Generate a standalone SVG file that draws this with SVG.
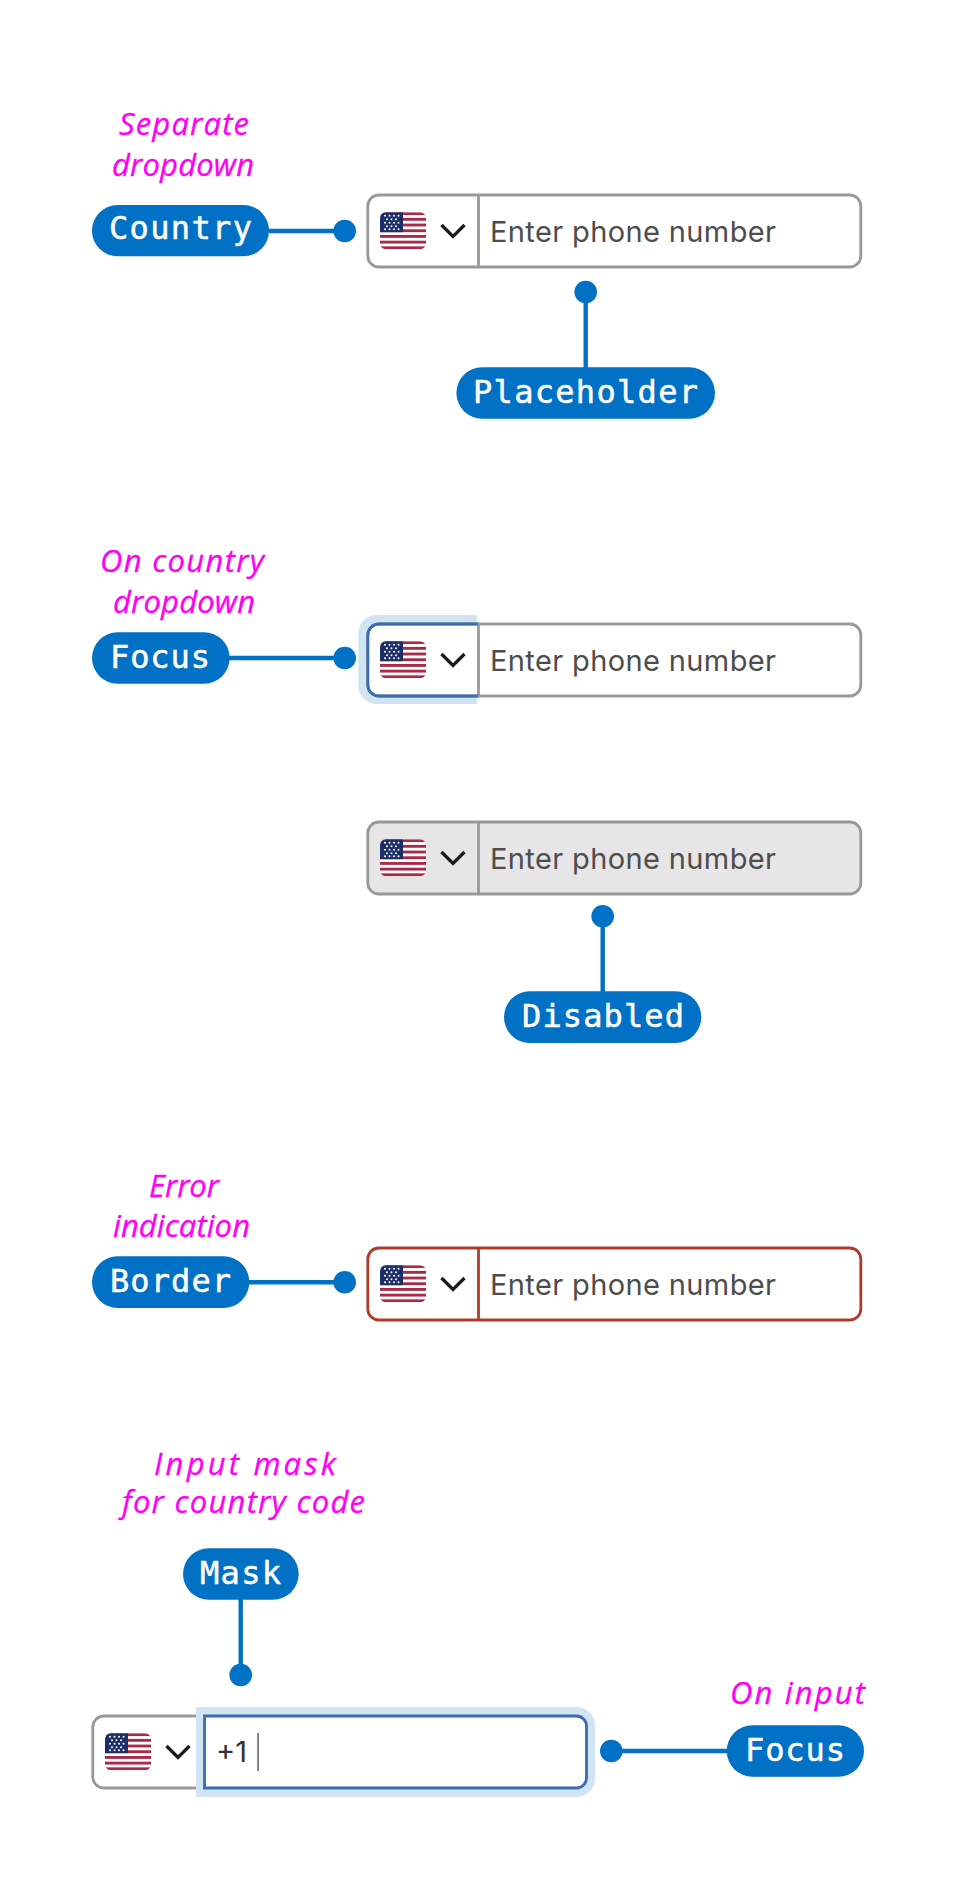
<svg xmlns="http://www.w3.org/2000/svg" xmlns:xlink="http://www.w3.org/1999/xlink" width="956" height="1904" viewBox="0 0 956 1904">
<style>
.pill{fill:#0071c5}
.pt{font-family:"DejaVu Sans Mono","Liberation Mono",monospace;font-size:32px;fill:#fff;stroke:#fff;stroke-width:.5px}
.hand{font-family:"Open Sans","Noto Sans",sans-serif;font-style:italic;font-weight:400;font-size:31px;fill:#ff00f0;stroke:#ff00f0;stroke-width:.3px}
.box{fill:#fff;stroke:#999;stroke-width:2.8}
.div{stroke:#999;stroke-width:2.8;fill:none}
.ph{font-family:Inter,"Liberation Sans",sans-serif;font-size:29px;fill:#4d4d4d}
.chev{fill:none;stroke:#1a1a1a;stroke-width:3.3}
.line{stroke:#0071c5;stroke-width:4.4;fill:none}
.dot{fill:#0071c5}
.ring{fill:#d0e4f3}
.foc{fill:none;stroke:#3a6cb0;stroke-width:2.8}
</style>
<defs>
<clipPath id="fc"><rect width="46" height="37" rx="6"/></clipPath>
<g id="flag"><g clip-path="url(#fc)">
<rect width="46" height="37" fill="#fff"/>
<g fill="#a92a47">
<rect y="0" width="46" height="2.85"/><rect y="5.7" width="46" height="2.85"/><rect y="11.4" width="46" height="2.85"/><rect y="17.1" width="46" height="2.85"/><rect y="22.8" width="46" height="2.85"/><rect y="28.5" width="46" height="2.85"/><rect y="34.15" width="46" height="2.85"/>
</g>
<rect width="23" height="20" fill="#1e2f66"/>
<g fill="#fff">
<circle cx="5" cy="3.5" r="1"/><circle cx="9.5" cy="3.5" r="1"/><circle cx="14" cy="3.5" r="1"/><circle cx="18.5" cy="3.5" r="1"/>
<circle cx="7" cy="7" r="1"/><circle cx="11.5" cy="7" r="1"/><circle cx="16" cy="7" r="1"/>
<circle cx="5" cy="10.5" r="1"/><circle cx="9.5" cy="10.5" r="1"/><circle cx="14" cy="10.5" r="1"/><circle cx="18.5" cy="10.5" r="1"/>
<circle cx="7" cy="14" r="1"/><circle cx="11.5" cy="14" r="1"/><circle cx="16" cy="14" r="1"/>
<circle cx="5" cy="17" r="1"/><circle cx="9.5" cy="17" r="1"/><circle cx="14" cy="17" r="1"/><circle cx="18.5" cy="17" r="1"/>
</g></g></g>
<g id="selector">
<use xlink:href="#flag" href="#flag" x="13" y="18.2"/>
<polyline class="chev" points="74.5,31 86,42.5 97.5,31"/>
</g>
</defs>
<rect width="956" height="1904" fill="#fff"/>

<g id="connectors">
<path class="line" d="M269 231H344.7"/><circle class="dot" cx="344.7" cy="231" r="11.3"/>
<path class="line" d="M585.7 292V368"/><circle class="dot" cx="585.7" cy="292" r="11.3"/>
<path class="line" d="M229 658H344.7"/><circle class="dot" cx="344.7" cy="658" r="11.3"/>
<path class="line" d="M602.7 916V992"/><circle class="dot" cx="602.7" cy="916.3" r="11.3"/>
<path class="line" d="M249 1282.3H344.7"/><circle class="dot" cx="344.7" cy="1282.3" r="11.3"/>
<path class="line" d="M240.7 1599V1675"/><circle class="dot" cx="240.7" cy="1675" r="11.3"/>
<path class="line" d="M611.3 1751H727"/><circle class="dot" cx="611.3" cy="1751" r="11.3"/>
</g>

<g id="input-default" transform="translate(367,194)">
<rect class="box" x="0.8" y="1" width="493" height="72" rx="11"/>
<path class="div" d="M111.500 1V73"/>
<use xlink:href="#selector" href="#selector"/>
<text class="ph" x="123" y="47.500" textLength="286">Enter phone number</text>
</g>
<g id="input-focus-country" transform="translate(367,623)">
<path class="ring" d="M110 -8H10A18.500 18.500 0 0 0 -8.700 10.500V62.500A18.500 18.500 0 0 0 10 81H110Z"/>
<rect class="box" x="0.8" y="1" width="493" height="72" rx="11"/>
<path class="div" d="M111.500 1V73"/>
<path class="foc" d="M111 1H11.800A11 11 0 0 0 0.800 12V62A11 11 0 0 0 11.800 73H111"/>
<use xlink:href="#selector" href="#selector"/>
<text class="ph" x="123" y="47.500" textLength="286">Enter phone number</text>
</g>
<g id="input-disabled" transform="translate(367,821)">
<rect class="box" x="0.8" y="1" width="493" height="72" rx="11" style="fill:#e6e6e6"/>
<path class="div" d="M111.500 1V73"/>
<use xlink:href="#selector" href="#selector"/>
<text class="ph" x="123" y="47.500" textLength="286">Enter phone number</text>
</g>
<g id="input-error" transform="translate(367,1247)">
<rect class="box" x="0.8" y="1" width="493" height="72" rx="11" style="stroke:#b03a2a"/>
<path class="div" d="M111.500 1V73" style="stroke:#b03a2a"/>
<use xlink:href="#selector" href="#selector"/>
<text class="ph" x="123" y="47.500" textLength="286">Enter phone number</text>
</g>
<g id="input-focus-phone" transform="translate(92,1715)">
<rect class="box" x="0.8" y="1" width="140" height="72" rx="11"/>
<use xlink:href="#selector" href="#selector"/>
<path class="ring" d="M104 -8H485A18.500 18.500 0 0 1 503 10.500V63.500A18.500 18.500 0 0 1 485 82H104Z"/>
<path d="M112.500 1H484.500A10 10 0 0 1 494.500 11V63A10 10 0 0 1 484.500 73H112.500Z" fill="#fff" stroke="#3a6cb0" stroke-width="2.800"/>
<text x="124" y="46.700" font-family="Inter,'Liberation Sans',sans-serif" font-size="29" fill="#333">+1</text>
<rect x="165.300" y="18" width="1.600" height="38" fill="#666"/>
</g>

<g id="label-country"><rect class="pill" x="92" y="205" width="177" height="51.300" rx="25.600"/><text class="pt" x="109" y="239" textLength="143">Country</text></g>
<g id="label-placeholder"><rect class="pill" x="456.400" y="367.300" width="258.600" height="51.400" rx="25.700"/><text class="pt" x="473" y="402.700" textLength="225">Placeholder</text></g>
<g id="label-focus-country"><rect class="pill" x="92" y="632.300" width="137.700" height="51.400" rx="25.700"/><text class="pt" x="110" y="667.700" textLength="100">Focus</text></g>
<g id="label-disabled"><rect class="pill" x="504" y="991.300" width="197.300" height="51.700" rx="25.800"/><text class="pt" x="522" y="1026.700" textLength="162">Disabled</text></g>
<g id="label-border"><rect class="pill" x="92" y="1256.300" width="157.300" height="51.700" rx="25.800"/><text class="pt" x="110" y="1291.700" textLength="121">Border</text></g>
<g id="label-mask"><rect class="pill" x="183" y="1548.300" width="115.700" height="51.400" rx="25.700"/><text class="pt" x="200" y="1584" textLength="81">Mask</text></g>
<g id="label-focus-phone"><rect class="pill" x="726.700" y="1725.300" width="137.300" height="51.400" rx="25.700"/><text class="pt" x="745" y="1760.700" textLength="100">Focus</text></g>

<g id="notes">
<text class="hand" x="119" y="135" textLength="130">Separate</text>
<text class="hand" x="112" y="176" textLength="142">dropdown</text>
<text class="hand" x="100" y="572" textLength="164">On country</text>
<text class="hand" x="113" y="613" textLength="142">dropdown</text>
<text class="hand" x="149" y="1197" textLength="70">Error</text>
<text class="hand" x="113" y="1237" textLength="137">indication</text>
<text class="hand" x="154" y="1475" textLength="182">Input mask</text>
<text class="hand" x="122" y="1513" textLength="243">for country code</text>
<text class="hand" x="730" y="1704" textLength="135">On input</text>
</g>
</svg>
